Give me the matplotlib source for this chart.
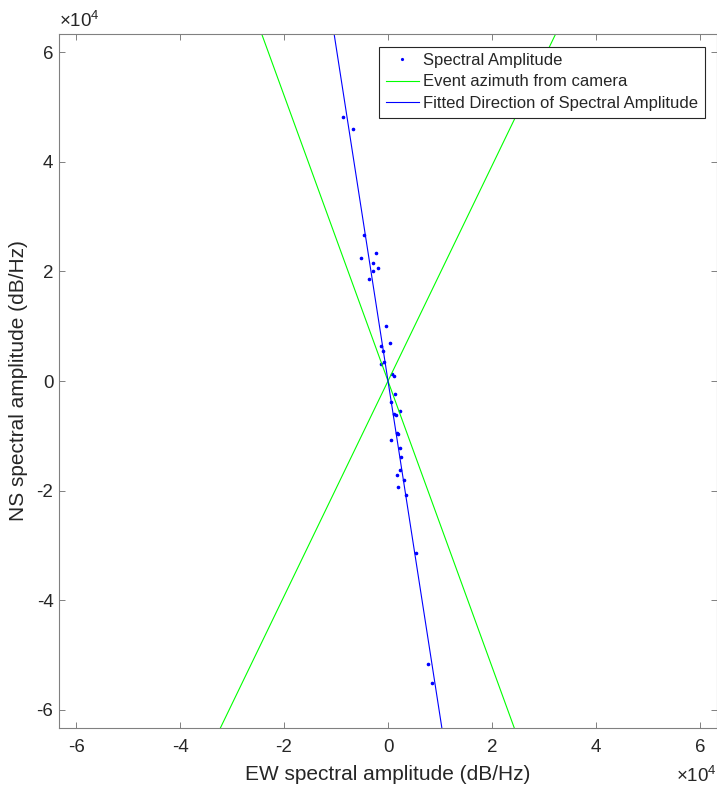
import numpy as np
import matplotlib
matplotlib.use("Agg")
import matplotlib.pyplot as plt
from matplotlib.ticker import FuncFormatter, MultipleLocator

plt.rcParams['font.family'] = ['Liberation Sans', 'DejaVu Sans']
plt.rcParams['mathtext.fontset'] = 'custom'
plt.rcParams['mathtext.rm'] = 'Liberation Sans'
plt.rcParams['mathtext.it'] = 'Liberation Sans:italic'

# spectral amplitude samples (EW, NS)
ew = [-8650, -6730, -4670, -2250, -5190, -2940, -1980, -2830, -3650,
      -380, 330, -1290, -900, -710, -1350, 710, 1150,
      1400, 630, 2250, 1150, 1480, 1670, 1870, 630, 2250, 2500,
      2310, 3130, 1790, 1980, 3460, 5380, 7750, 8520]
ns = [48200, 46000, 26700, 23300, 22500, 21600, 20700, 20100, 18600,
      10000, 7000, 6300, 5500, 3500, 3100, 1300, 900,
      -2430, -3880, -5470, -5950, -6130, -9410, -9590, -10760, -12270, -13910,
      -16160, -18110, -17070, -19260, -20790, -31370, -51540, -55130]

# azimuths (degrees from north)
camera_az = [27.0, -21.0]
fit_az = -9.3

lim = 63300
text_col = '#262626'
axis_col = '#808080'

def main():
    fig = plt.figure(figsize=(7.17, 7.89), dpi=100)
    ax = fig.add_axes([59 / 717, 61 / 789, 658 / 717, 694 / 789])

    ax.plot(ew, ns, '.', color=(0, 0, 1), markersize=3.2, label='Spectral Amplitude')

    r = np.array([-2 * lim, 2 * lim])
    for i, az in enumerate(camera_az):
        a = np.deg2rad(az)
        ax.plot(r * np.sin(a), r * np.cos(a), '-', color=(0, 1, 0), lw=0.8,
                label='Event azimuth from camera' if i == 0 else None)
    a = np.deg2rad(fit_az)
    ax.plot(r * np.sin(a), r * np.cos(a), '-', color=(0, 0, 1), lw=0.8,
            label='Fitted Direction of Spectral Amplitude')

    ax.set_xlim(-lim, lim)
    ax.set_ylim(-lim, lim)
    ax.xaxis.set_major_locator(MultipleLocator(20000))
    ax.yaxis.set_major_locator(MultipleLocator(20000))
    fmt = FuncFormatter(lambda v, p: '%g' % (v / 1e4))
    ax.xaxis.set_major_formatter(fmt)
    ax.yaxis.set_major_formatter(fmt)

    ax.tick_params(direction='in', top=True, right=True, length=4.3, width=0.7,
                   color=axis_col, labelcolor=text_col, labelsize=13.5)
    ax.tick_params(axis='x', pad=8)
    ax.tick_params(axis='y', pad=4)
    for s in ax.spines.values():
        s.set_color(axis_col)
        s.set_linewidth(0.8)

    ax.set_xlabel('EW spectral amplitude (dB/Hz)', fontsize=15, color=text_col)
    ax.set_ylabel('NS spectral amplitude (dB/Hz)', fontsize=15, color=text_col)
    ax.xaxis.set_label_coords(0.5, -0.053)
    ax.yaxis.set_label_coords(-0.047, 0.5)

    ax.text(0.0, 1.005, r'$\times$10$^{4}$', transform=ax.transAxes, ha='left',
            va='bottom', fontsize=13.5, color=text_col)
    ax.text(1.0, -0.055, r'$\times$10$^{4}$', transform=ax.transAxes, ha='right',
            va='top', fontsize=13.5, color=text_col)

    leg = ax.legend(loc='upper right', fontsize=12, fancybox=False, framealpha=1,
                    edgecolor='#262626', handlelength=2.0, handletextpad=0.25,
                    labelspacing=0.4, borderpad=0.38, borderaxespad=0.75,
                    markerscale=0.8)
    leg.get_frame().set_linewidth(0.8)
    for t in leg.get_texts():
        t.set_color(text_col)

    fig.savefig('out.png', dpi=100)

if __name__ == "__main__":
    main()
